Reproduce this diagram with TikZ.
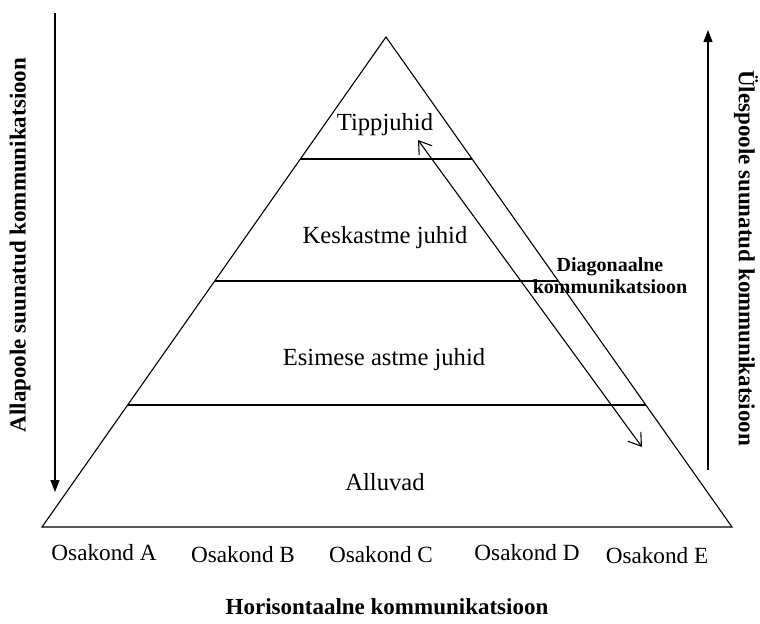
\documentclass[tikz,border=0pt]{standalone}
\usepackage{fontspec}
\setmainfont{Liberation Serif}
\usetikzlibrary{arrows.meta,calc}
\tikzset{
  lvl/.style={font=\fontsize{12.3}{14}\selectfont},
  dept/.style={font=\fontsize{11.6}{14}\selectfont},
  side/.style={font=\bfseries\fontsize{11.5}{14}\selectfont},
  diag/.style={font=\bfseries\fontsize{10}{11}\selectfont,align=center}
}
\begin{document}
\begin{tikzpicture}[x=0.5pt,y=-0.5pt,line width=0.55pt]
\useasboundingbox (0,0) rectangle (760,623);
% Pyramid
\coordinate (apex) at (386,37);
\coordinate (bl) at (42,527);
\coordinate (br) at (732,527);
\draw (apex) -- (bl) -- (br) -- cycle;
\foreach \f in {0.249,0.498,0.751}
    \draw ($(apex)!\f!(bl)$) -- ($(apex)!\f!(br)$);

% Levels
\node[lvl] (tipp) at (385,125) {Tippjuhid};
\node[lvl] (kesk) at (385,238) {Keskastme juhid};
\node[lvl] (esim) at (384,360) {Esimese astme juhid};
\node[lvl] (allu) at (385,482) {Alluvad};

% Departments
\foreach \x/\y/\l in {104/553/A,243/555/B,381/555/C,527/553/D,657/556/E}
    \node[dept] (os\l) at (\x,\y) {Osakond \l};
\node[side] (hor) at (387,607) {Horisontaalne kommunikatsioon};

% Vertical communication
\coordinate (dn1) at (55,13);
\coordinate (dn2) at (55,492);
\draw[-{Triangle[length=6pt,width=4.5pt]}] (dn1) -- (dn2);
\node[side,rotate=90] (alla) at (20,245) {Allapoole suunatud kommunikatsioon};
\coordinate (up1) at (708,470);
\coordinate (up2) at (708,30);
\draw[-{Triangle[length=6pt,width=4.5pt]}] (up1) -- (up2);
\node[side,rotate=-90] (yles) at (746,258) {Ülespoole suunatud kommunikatsioon};

% Diagonal communication
\coordinate (dg1) at (418,140);
\coordinate (dg2) at (642,447);
\draw[{Straight Barb[length=6pt,width=8pt]}-{Straight Barb[length=6pt,width=8pt]}] (dg1) -- (dg2);
\node[diag] (dgl) at (610,276) {Diagonaalne\\kommunikatsioon};
\end{tikzpicture}
\end{document}
